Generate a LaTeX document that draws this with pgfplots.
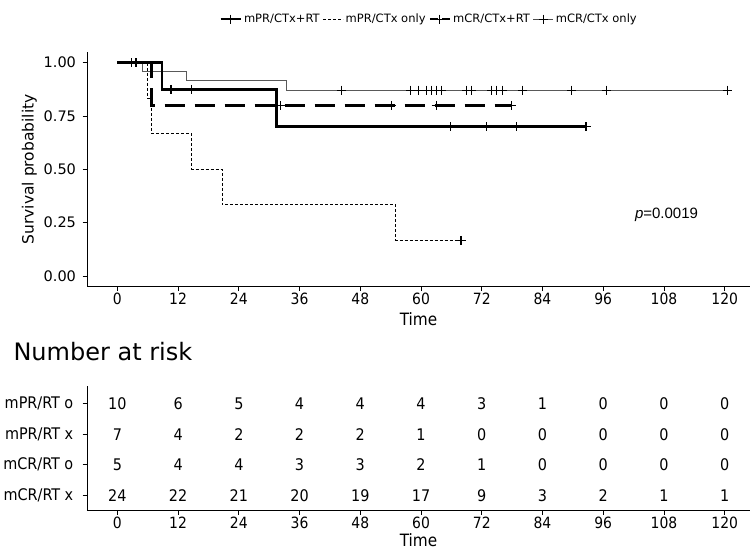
\documentclass[border=0pt]{standalone}
\usepackage{pgfplots}
\pgfplotsset{compat=1.18}
\usepackage{fontspec}
\setmainfont{DejaVu Sans}
\newfontfamily\condfont{DejaVu Sans Condensed}
\newfontfamily\arialfont{Liberation Sans}
\begin{document}
\begin{tikzpicture}
\path[use as bounding box] (0pt,-559pt) rectangle (756pt,0pt);
\pgfplotsset{
  kmbase/.style={scale only axis, width=663pt, xmin=-6, xmax=125,
    axis lines=left, axis line style={-, line width=0.9pt},
    tick align=outside, major tick length=4.5pt,
    tick style={line width=0.9pt, black},
    xtick={0,12,...,120},
    xticklabel style={font=\condfont\fontsize{15.5}{17}\selectfont, inner sep=2pt},
    /pgf/number format/assume math mode=true, clip=false,
    xlabel style={font=\condfont\fontsize{17}{19}\selectfont, inner sep=1pt, yshift=-4pt}},
}
\begin{axis}[kmbase, at={(87pt,-286.7pt)}, anchor=south west, height=234.7pt,
  ymin=-0.05, ymax=1.05, ytick={0,0.25,0.5,0.75,1},
  yticklabels={0.00,0.25,0.50,0.75,1.00},
  yticklabel style={font=\fontsize{14.5}{16}\selectfont, xshift=-3pt},
  ylabel={Survival probability},
  ylabel style={font=\fontsize{15.5}{17}\selectfont},
  xlabel={Time},
  legend style={at={(0.516,1.14)}, anchor=center, draw=none, fill=none,
    legend columns=4, font=\fontsize{11.5}{13}\selectfont,
    /tikz/every even column/.append style={column sep=1pt},
    inner sep=0pt},
  legend cell align=left,
  legend image code/.code={\draw[mark repeat=2,mark phase=2] plot coordinates {(0pt,0pt)(10pt,0pt)(20pt,0pt)};},
]
\addlegendimage{black, line width=2.6pt, mark=+, mark size=4.5pt, mark options={solid, line width=1.2pt}}
\addlegendentry{mPR/CTx+RT}
\addlegendimage{black, line width=1pt, dash pattern=on 3pt off 2pt}
\addlegendentry{mPR/CTx only}
\addlegendimage{black, line width=2.6pt, dash pattern=on 8pt off 4pt, mark=+, mark size=4.5pt, mark options={solid, line width=1.2pt}}
\addlegendentry{mCR/CTx+RT}
\addlegendimage{black!70, line width=0.9pt, mark=+, mark size=4.5pt, mark options={solid, black, line width=1pt}}
\addlegendentry{mCR/CTx only}

% mCR/CTx only (thin solid)
\addplot[const plot, black!65, line width=0.9pt, forget plot] coordinates {
(0,1) (4.9,0.958) (13.7,0.915) (33.5,0.871) (120.5,0.871)};
\addplot[only marks, mark=+, mark size=4.5pt, black, line width=1pt, forget plot] coordinates {
(44.2,0.871) (58,0.871) (59.5,0.871) (61,0.871) (62,0.871) (63,0.871) (64,0.871)
(69,0.871) (70,0.871) (74,0.871) (75,0.871) (76,0.871) (80,0.871) (89.7,0.871)
(96.6,0.871) (120.5,0.871)};
% mPR/CTx only (thin dashed)
\addplot[const plot, black, line width=1pt, dash pattern=on 3pt off 2pt, forget plot] coordinates {
(0,1) (5.9,0.833) (6.8,0.667) (14.7,0.5) (20.7,0.333) (55.0,0.167) (67.9,0.167)};
\addplot[only marks, mark=+, mark size=4.5pt, black, line width=1.1pt, forget plot] coordinates {
(67.9,0.167)};
% mCR/CTx+RT (thick dashed)
\addplot[const plot, black, line width=2.6pt, dash pattern=on 20pt off 10pt, forget plot] coordinates {
(0,1) (6.8,0.8) (77.8,0.8)};
\addplot[only marks, mark=+, mark size=4.5pt, black, line width=1.2pt, forget plot] coordinates {
(32.3,0.8) (54.2,0.8) (63.0,0.8) (77.8,0.8)};
% mPR/CTx+RT (thick solid)
\addplot[const plot, black, line width=2.6pt, forget plot] coordinates {
(0,1) (8.8,0.875) (31.4,0.7) (92.6,0.7)};
\addplot[only marks, mark=+, mark size=4.5pt, black, line width=1.2pt, forget plot] coordinates {
(2.8,1) (3.7,1) (10.6,0.875) (14.6,0.875) (65.9,0.7) (72.9,0.7) (78.8,0.7) (92.6,0.7)};

\node[font=\arialfont\fontsize{15}{17}\selectfont] at (axis cs:108.5,0.286) {\textit{p}=0.0019};
\end{axis}

\node[anchor=west, font=\fontsize{24}{27}\selectfont] at (10pt,-352pt) {Number at risk};

\begin{axis}[kmbase, at={(87pt,-510pt)}, anchor=south west, height=124pt,
  ymin=0.52, ymax=4.58, ytick={1,2,3,4},
  yticklabels={mCR/RT x, mCR/RT o, mPR/RT x, mPR/RT o},
  yticklabel style={font=\condfont\fontsize{16}{18}\selectfont, inner sep=2pt, xshift=-7pt},
  xlabel={Time},
  xlabel style={yshift=2pt},
  point meta=explicit symbolic,
  nodes near coords,
  nodes near coords style={anchor=center, font=\condfont\fontsize{16}{18}\selectfont, black},
]
\addplot[only marks, mark=none] coordinates {
(0,4)[10] (12,4)[6] (24,4)[5] (36,4)[4] (48,4)[4] (60,4)[4] (72,4)[3] (84,4)[1] (96,4)[0] (108,4)[0] (120,4)[0]};
\addplot[only marks, mark=none] coordinates {
(0,3)[7] (12,3)[4] (24,3)[2] (36,3)[2] (48,3)[2] (60,3)[1] (72,3)[0] (84,3)[0] (96,3)[0] (108,3)[0] (120,3)[0]};
\addplot[only marks, mark=none] coordinates {
(0,2)[5] (12,2)[4] (24,2)[4] (36,2)[3] (48,2)[3] (60,2)[2] (72,2)[1] (84,2)[0] (96,2)[0] (108,2)[0] (120,2)[0]};
\addplot[only marks, mark=none] coordinates {
(0,1)[24] (12,1)[22] (24,1)[21] (36,1)[20] (48,1)[19] (60,1)[17] (72,1)[9] (84,1)[3] (96,1)[2] (108,1)[1] (120,1)[1]};
\end{axis}
\end{tikzpicture}
\end{document}
